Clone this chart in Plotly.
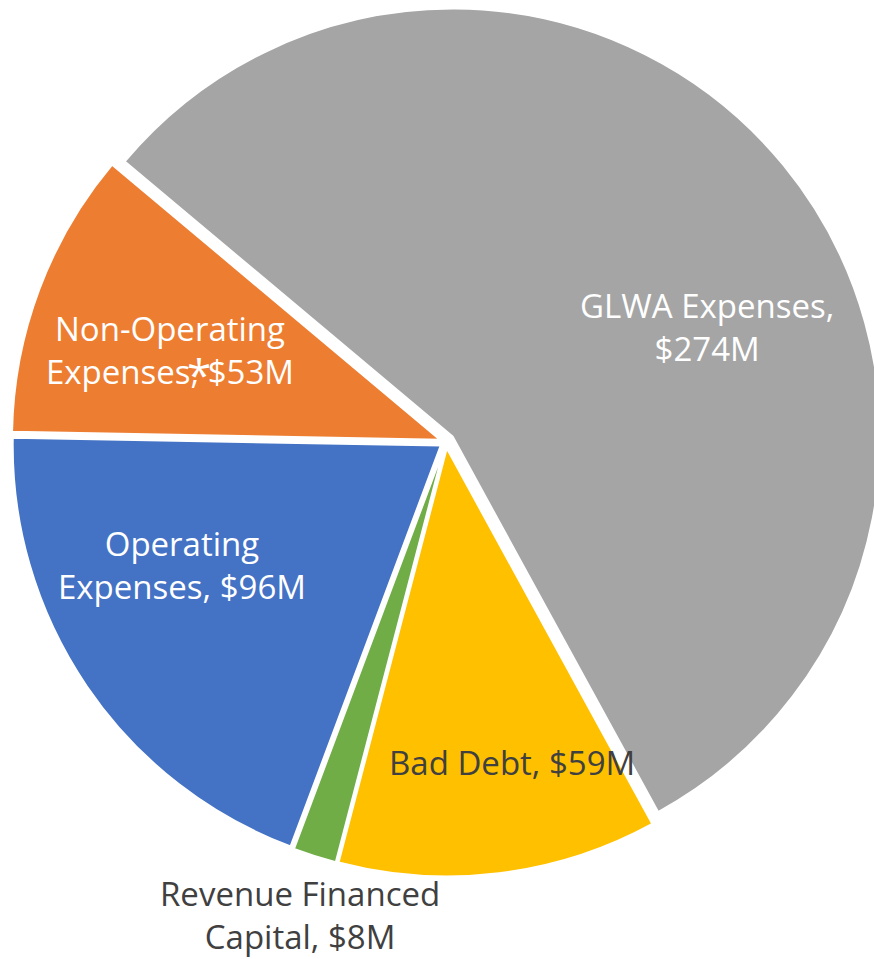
import plotly.graph_objects as go

# slices in drawing order (clockwise, starting upper-left)
categories = ["GLWA Expenses", "Bad Debt", "Revenue Financed Capital",
              "Operating Expenses", "Non-Operating Expenses"]
values_musd = [274, 59, 8, 96, 53]
colors = ["#A5A5A5", "#FFC000", "#70AD47", "#4472C4", "#ED7D31"]
pulls = [0.02, 0.015, 0.015, 0.015, 0.015]

# data labels as shown on the chart
label_texts = [
    "GLWA Expenses,<br>$274M",
    "Bad Debt, $59M",
    "Revenue Financed<br>Capital, $8M",
    "Operating<br>Expenses, $96M",
    "Non-Operating<br>Expenses, $53M",
]
label_colors = ["white", "#404040", "#404040", "white", "white"]
label_px = [(707, 327), (512, 762), (300, 915), (182, 565), (170, 350)]

# figure is a little wider than the 874px window; the gray slice runs off the right edge
W, H = 900, 959
cx, cy, r = 446, 442, 428
half = r * (1 + max(pulls))

fig = go.Figure(
    go.Pie(
        labels=categories,
        values=values_musd,
        sort=False,
        direction="clockwise",
        rotation=-50,
        marker=dict(colors=colors, line=dict(color="white", width=2)),
        pull=pulls,
        textinfo="none",
        hoverinfo="label+value",
        showlegend=False,
        domain=dict(
            x=[(cx - half) / W, (cx + half) / W],
            y=[(H - cy - half) / H, (H - cy + half) / H],
        ),
    )
)

for text, col, (px, py) in zip(label_texts, label_colors, label_px):
    fig.add_annotation(
        x=px / W, y=1 - py / H, xref="paper", yref="paper",
        text=text, showarrow=False, align="center",
        xanchor="center", yanchor="middle",
        font=dict(family="Open Sans", size=33, color=col),
    )

# footnote marker next to the non-operating label
fig.add_annotation(
    x=199 / W, y=1 - 374 / H, xref="paper", yref="paper",
    text="*", showarrow=False, xanchor="center", yanchor="middle",
    font=dict(family="Open Sans", size=44, color="white"),
)

fig.update_layout(
    width=W,
    height=H,
    margin=dict(l=0, r=0, t=0, b=0),
    paper_bgcolor="white",
    plot_bgcolor="white",
)

fig.write_html(
    "out.html",
    config={"displayModeBar": False},
    post_script="document.body.style.margin='0';document.body.style.overflow='hidden';",
)
